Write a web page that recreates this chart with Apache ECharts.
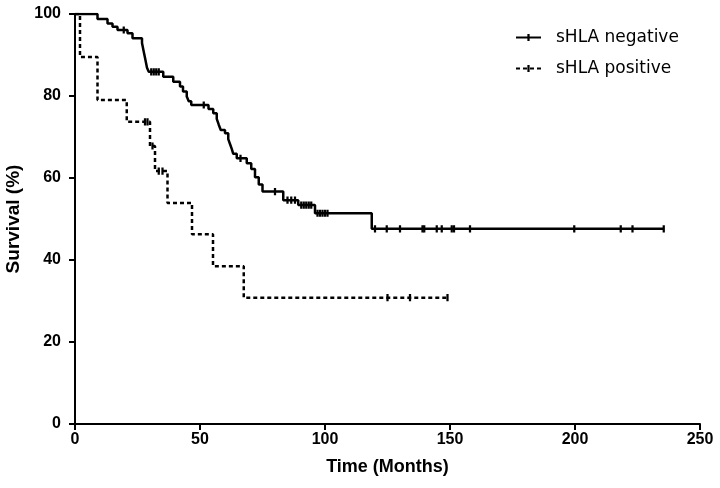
<!DOCTYPE html>
<html>
<head>
<meta charset="utf-8">
<script src="https://cdn.jsdelivr.net/npm/echarts@6/dist/echarts.min.js"></script>
<style>html,body{margin:0;padding:0;background:#fff}#c{width:720px;height:488px}</style>
</head>
<body>
<div id="c"></div>
<script>
// sHLA negative: event times (months) and survival (%) after each event
const negEventTime = [0, 9, 13, 15, 17, 21, 23, 26.8, 27.2, 27.6, 28, 28.4, 28.8, 29.5, 35.3, 39.3, 42, 43.2, 44.7, 45.5, 46.5, 53.4, 55.3, 56.7, 57.5, 58.3, 60, 61.3, 62, 62.7, 63.3, 64.7, 68.7, 70.5, 72, 73.5, 75, 83.3, 89.3, 96, 118.7];
const negEventSurv = [100, 98.8, 97.7, 96.9, 96.1, 95.3, 94.1, 92.9, 91.7, 90.5, 89.3, 88.1, 86.9, 85.9, 84.7, 83.5, 82.3, 81.1, 79.9, 78.7, 77.8, 76.8, 75.8, 74.4, 73.0, 71.7, 70.9, 69.5, 68.3, 67.1, 65.9, 64.8, 63.6, 62.2, 60.2, 58.4, 56.7, 54.6, 53.4, 51.4, 47.6];
// sHLA negative: censored times and survival level at censoring
const negCensorTime = [19.5, 30.5, 31.5, 32.5, 33.5, 51.5, 66.2, 80, 85, 86.5, 88, 90.5, 91.5, 92.5, 93.5, 94.5, 97, 98, 99, 100, 101, 120, 124.7, 130, 139, 139.7, 144.7, 146.7, 150.7, 151.6, 158, 199.7, 218.3, 223, 235.5];
const negCensorSurv = [96.1, 85.9, 85.9, 85.9, 85.9, 77.8, 64.8, 56.7, 54.6, 54.6, 54.6, 53.4, 53.4, 53.4, 53.4, 53.4, 51.4, 51.4, 51.4, 51.4, 51.4, 47.6, 47.6, 47.6, 47.6, 47.6, 47.6, 47.6, 47.6, 47.6, 47.6, 47.6, 47.6, 47.6, 47.6];
// sHLA positive
const posEventTime = [0, 2, 9, 20.7, 30, 32, 37, 46.8, 55.2, 67.5];
const posEventSurv = [100, 89.5, 79.0, 73.7, 67.8, 61.7, 53.9, 46.3, 38.5, 30.8];
const posCensorTime = [28, 29, 31, 33.5, 35, 125, 134, 149];
const posCensorSurv = [73.7, 73.7, 67.8, 61.7, 61.7, 30.8, 30.8, 30.8];

const seriesNames = ['sHLA negative', 'sHLA positive'];
const xTicks = { min: 0, max: 250, interval: 50 };
const yTicks = { min: 0, max: 100, interval: 20 };

// vertical tick mark (censor), with near-invisible corner specks to fix a square bounding box
const tickSymbol = 'path://M0,0 L0.02,0 L0.02,0.02 Z M9.98,9.98 L10,9.98 L10,10 Z M3.6,0.5 L6.4,0.5 L6.4,9.5 L3.6,9.5 Z';

function buildData(et, es, ct, cs) {
  const pts = [];
  et.forEach((t, i) => pts.push({ value: [t, es[i]], symbol: 'none', k: 0 }));
  ct.forEach((t, i) => pts.push({ value: [t, cs[i]], k: 1 }));
  pts.sort((a, b) => a.value[0] - b.value[0] || a.k - b.k);
  return pts.map(p => p.symbol ? { value: p.value, symbol: p.symbol } : { value: p.value });
}

const chart = echarts.init(document.getElementById('c'), null, { renderer: 'canvas' });
const axisFont = { fontFamily: 'Liberation Sans', fontWeight: 'bold', color: '#000' };
chart.setOption({
  animation: false,
  backgroundColor: '#fff',
  grid: { left: 75, right: 20, top: 14, bottom: 64, containLabel: false, outerBoundsMode: 'none' },
  legend: {
    orient: 'vertical',
    left: 515,
    top: 29,
    padding: 0,
    itemWidth: 25,
    itemHeight: 10,
    itemGap: 14,
    textStyle: { fontFamily: 'DejaVu Sans', fontSize: 17, color: '#000', padding: [0, 0, 0, 10] },
    data: seriesNames
  },
  xAxis: {
    type: 'value',
    min: xTicks.min, max: xTicks.max, interval: xTicks.interval,
    name: 'Time (Months)',
    nameLocation: 'middle',
    nameGap: 34,
    nameTextStyle: Object.assign({ fontSize: 18 }, axisFont),
    axisLine: { lineStyle: { color: '#000', width: 2 } },
    axisTick: { length: 6, lineStyle: { color: '#000', width: 2 } },
    axisLabel: Object.assign({ fontSize: 16, margin: 8 }, axisFont),
    splitLine: { show: false }
  },
  yAxis: {
    type: 'value',
    min: yTicks.min, max: yTicks.max, interval: yTicks.interval,
    name: 'Survival (%)',
    nameLocation: 'middle',
    nameGap: 46,
    nameTextStyle: Object.assign({ fontSize: 19 }, axisFont),
    axisLine: { show: true, lineStyle: { color: '#000', width: 2 } },
    axisTick: { show: true, length: 6, lineStyle: { color: '#000', width: 2 } },
    axisLabel: Object.assign({ fontSize: 16, margin: 14 }, axisFont),
    splitLine: { show: false }
  },
  series: [
    {
      name: seriesNames[0],
      type: 'line',
      step: 'end',
      data: buildData(negEventTime, negEventSurv, negCensorTime, negCensorSurv),
      symbol: tickSymbol,
      symbolSize: 8,
      showAllSymbol: true,
      color: '#000',
      itemStyle: { color: '#000' },
      lineStyle: { color: '#000', width: 2.5 }
    },
    {
      name: seriesNames[1],
      type: 'line',
      step: 'end',
      data: buildData(posEventTime, posEventSurv, posCensorTime, posCensorSurv),
      symbol: tickSymbol,
      symbolSize: 8,
      showAllSymbol: true,
      color: '#000',
      itemStyle: { color: '#000' },
      lineStyle: { color: '#000', width: 2.5, type: [4, 3] }
    }
  ]
});
</script>
</body>
</html>
